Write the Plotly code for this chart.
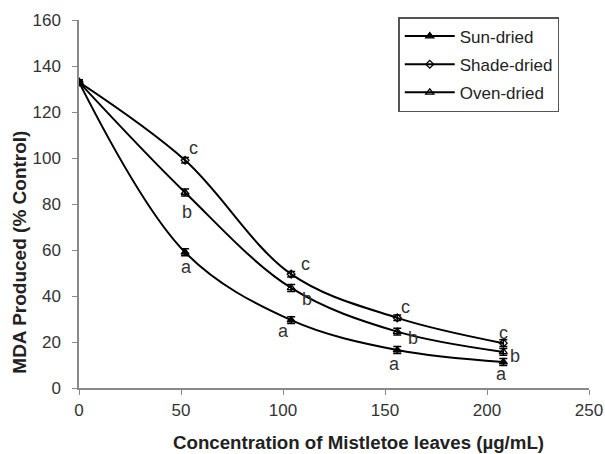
import plotly.graph_objects as go

conc = [0, 52, 104, 156, 208]
sun = [133, 59, 29.5, 16.5, 11.3]
shade = [133, 99, 49.5, 30.5, 19.5]
oven = [133, 85, 43.5, 24.5, 15.7]
err_sun = [1, 1.5, 1.5, 1.5, 1.5]
err_shade = [1, 1.2, 1.2, 1.2, 1.5]
err_oven = [1, 1.5, 1.5, 1.5, 1.5]

sun_letters = ["", "a", "a", "a", "a"]
shade_letters = ["", "c", "c", "c", "c"]
oven_letters = ["", "b", "b", "b", "b"]

# label pixel offsets (style)
sun_off = [(0, 0), (1, -15), (-8, -11), (-3, -14), (-2, -12)]
shade_off = [(0, 0), (8, 12), (14, 10), (8, 11), (0, 10)]
oven_off = [(0, 0), (2, -19), (16, -11), (16, -6), (12, -4)]

fig = go.Figure()

def add(name, y, err, symbol, size):
    fig.add_trace(go.Scatter(
        x=conc, y=y, name=name, mode="lines+markers", legendgroup=name,
        line=dict(color="black", width=2, shape="spline", smoothing=1.0),
        marker=dict(symbol=symbol, size=size, color="black",
                    line=dict(color="black", width=1.3)),
        error_y=dict(type="data", array=err, color="black", thickness=1.5, width=4),
    ))

add("Sun-dried", sun, err_sun, "triangle-up", 7)
add("Shade-dried", shade, err_shade, "diamond-open", 6)
add("Oven-dried", oven, err_oven, "triangle-up-open", 7)

annots = []
for ys, letters, offs in [(sun, sun_letters, sun_off), (shade, shade_letters, shade_off),
                          (oven, oven_letters, oven_off)]:
    for i in range(1, 5):
        annots.append(dict(x=conc[i], y=ys[i], text=letters[i], showarrow=False,
                           xshift=offs[i][0], yshift=offs[i][1],
                           font=dict(size=18, color="#333")))

annots.append(dict(text="<b>Concentration of Mistletoe leaves (µg/mL)</b>",
                   xref="paper", yref="paper", x=0.549, y=-0.149,
                   xanchor="center", yanchor="middle", showarrow=False,
                   font=dict(size=18.7, color="#222")))
annots.append(dict(text="<b>MDA Produced (% Control)</b>", textangle=-90,
                   xref="paper", yref="paper", x=-0.116, y=0.37,
                   xanchor="center", yanchor="middle", showarrow=False,
                   font=dict(size=19, color="#222")))

fig.update_layout(
    width=605, height=454,
    margin=dict(l=79, r=16, t=20, b=66, autoexpand=False),
    plot_bgcolor="white", paper_bgcolor="white",
    font=dict(family="Liberation Sans, Arial", size=17, color="#333"),
    showlegend=True,
    legend=dict(x=0.626, y=1.008, xanchor="left", yanchor="top",
                bordercolor="#555", borderwidth=1.5, bgcolor="white",
                font=dict(size=17, color="#222"), itemwidth=50,
                tracegroupgap=3),
    annotations=annots,
    xaxis=dict(range=[0, 250], dtick=50, showgrid=False, zeroline=False,
               showline=True, linecolor="#888", linewidth=1.5,
               ticks="outside", ticklen=5, tickcolor="#888",
               ticklabelstandoff=1, automargin=False),
    yaxis=dict(range=[0, 160], dtick=20, showgrid=False, zeroline=False,
               showline=True, linecolor="#888", linewidth=1.5,
               ticks="outside", ticklen=5, tickcolor="#888",
               ticklabelstandoff=8, automargin=False),
)

fig.write_html("out.html")
